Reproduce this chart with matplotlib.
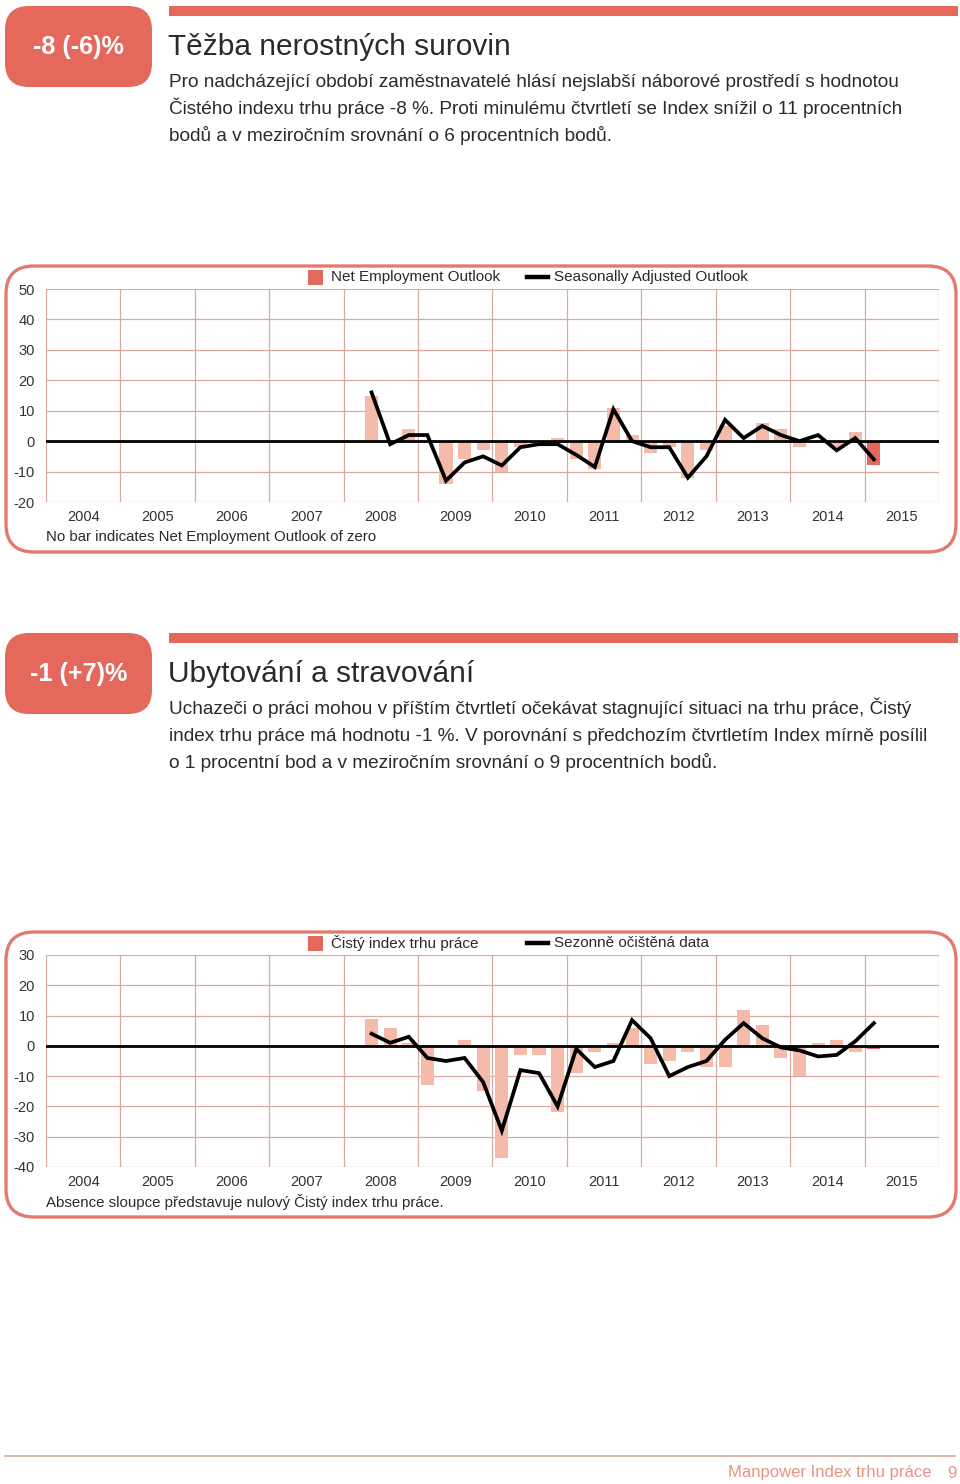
import matplotlib
matplotlib.use("Agg")
import matplotlib.pyplot as plt
from matplotlib.patches import FancyBboxPatch, Rectangle
from matplotlib.lines import Line2D

plt.rcParams['font.family'] = ['Liberation Sans', 'DejaVu Sans']

W, H = 960, 1484

# ---------------- data ----------------
quarters = ["2008Q2", "2008Q3", "2008Q4",
            "2009Q1", "2009Q2", "2009Q3", "2009Q4",
            "2010Q1", "2010Q2", "2010Q3", "2010Q4",
            "2011Q1", "2011Q2", "2011Q3", "2011Q4",
            "2012Q1", "2012Q2", "2012Q3", "2012Q4",
            "2013Q1", "2013Q2", "2013Q3", "2013Q4",
            "2014Q1", "2014Q2", "2014Q3", "2014Q4",
            "2015Q1"]
years = [2004, 2005, 2006, 2007, 2008, 2009, 2010, 2011, 2012, 2013, 2014, 2015]

# Chart 1 – Těžba nerostných surovin
neo_mining = [15, 0, 4, 0, -14, -6, -3, -10, -2, 0, 1, -6, -9, 11, 2,
              -4, -2, -12, -3, 5, 0, 6, 4, -2, 0, -2, 3, -8]
sa_mining = [16, -1, 2, 2, -13, -7, -5, -8, -2, -1, -1, -4.5, -8.5, 10.5, 0,
             -2, -2, -12, -5, 7, 1, 5, 2, 0, 2, -3, 1, -6]

# Chart 2 – Ubytování a stravování
neo_hotel = [9, 6, 1, -13, 0, 2, -15, -37, -3, -3, -22, -9, -2, 1, 6,
             -6, -5, -2, -7, -7, 12, 7, -4, -10, 1, 2, -2, -1]
sa_hotel = [4, 1, 3, -4, -5, -4, -12, -28, -8, -9, -20, -1, -7, -5, 8.5,
            2.5, -10, -7, -5, 2, 7.5, 2.5, -0.5, -1.5, -3.5, -3, 1.5, 7.5]

yticks1 = [-20, -10, 0, 10, 20, 30, 40, 50]
yticks2 = [-40, -30, -20, -10, 0, 10, 20, 30]

# ---------------- style ----------------
RED = "#E4685B"
LIGHT = "#F4BBAB"
GRID = "#D9AAA2"
FRAME = "#E27B6E"
TXT = "#2a2a2a"

fig = plt.figure(figsize=(W / 100, H / 100), dpi=100)
bg = fig.add_axes([0, 0, 1, 1])
bg.set_xlim(0, W)
bg.set_ylim(H, 0)
bg.axis("off")
bg.set_zorder(0)


def px_axes(x0, y0, x1, y1):
    ax = fig.add_axes([x0 / W, 1 - y1 / H, (x1 - x0) / W, (y1 - y0) / H])
    ax.set_zorder(2)
    return ax


def qpos(label):
    y, q = label.split("Q")
    return int(y) + (int(q) - 0.5) / 4.0


def header(y0, badge, title, lines):
    bg.add_patch(FancyBboxPatch((5, y0), 147, 81,
                                boxstyle="round,pad=0,rounding_size=24",
                                fc=RED, ec="none"))
    bg.text(78.5, y0 + 41, badge, color="white", fontsize=18.2, fontweight="bold",
            ha="center", va="center")
    bg.add_patch(Rectangle((169, y0), 789, 10, fc=RED, ec="none"))
    bg.text(168, y0 + 49, title, fontsize=21.5, color=TXT, va="baseline", ha="left")
    for i, ln in enumerate(lines):
        bg.text(169, y0 + 81 + 27 * i, ln, fontsize=13.7, color=TXT,
                va="baseline", ha="left")


def chart(frame_y0, frame_y1, ax_y0, ax_y1, ylim, yticks, neo, sa,
          leg1, leg2, note):
    bg.add_patch(FancyBboxPatch((6, frame_y0), 950, frame_y1 - frame_y0,
                                boxstyle="round,pad=0,rounding_size=28",
                                fc="none", ec=FRAME, lw=2.4))
    ax = px_axes(46, ax_y0, 939, ax_y1)
    ax.set_xlim(2004, 2016)
    ax.set_ylim(*ylim)
    ax.set_xticks(list(range(2004, 2017)))
    ax.set_xticks([y + 0.5 for y in years], minor=True)
    ax.set_xticklabels([], minor=False)
    ax.set_xticklabels([str(y) for y in years], minor=True)
    ax.set_yticks(yticks)
    ax.set_yticklabels([str(v) for v in yticks])
    ax.tick_params(axis="both", which="both", length=0, labelsize=10.5,
                   labelcolor="#333333")
    ax.tick_params(axis="x", which="minor", pad=6)
    ax.tick_params(axis="y", pad=8)
    ax.grid(True, which="major", color=GRID, lw=0.9)
    ax.set_axisbelow(True)
    for s in ax.spines.values():
        s.set_visible(False)
    xs = [qpos(q) for q in quarters]
    colors = [LIGHT] * (len(neo) - 1) + [RED]
    ax.bar(xs, neo, width=0.175, color=colors, zorder=2, linewidth=0)
    ax.axhline(0, color="black", lw=2.0, zorder=3)
    ax.plot(xs, sa, color="black", lw=2.7, zorder=4, solid_joinstyle="miter")
    # legend
    ly = frame_y0 + 11
    bg.add_patch(Rectangle((308, ly - 7.5), 15, 15, fc=RED, ec="none", zorder=3))
    bg.text(331, ly, leg1, fontsize=11, color=TXT, va="center", ha="left", zorder=3)
    bg.add_line(Line2D([527, 548], [ly, ly], color="black", lw=3.2, zorder=3))
    bg.text(554, ly, leg2, fontsize=11, color=TXT, va="center", ha="left", zorder=3)
    bg.text(46, ax_y1 + 35, note, fontsize=10.8, color=TXT, va="center", ha="left")
    return ax


header(6, "-8 (-6)%", "Těžba nerostných surovin",
       ["Pro nadcházející období zaměstnavatelé hlásí nejslabší náborové prostředí s hodnotou",
        "Čistého indexu trhu práce -8 %. Proti minulému čtvrtletí se Index snížil o 11 procentních",
        "bodů a v meziročním srovnání o 6 procentních bodů."])

chart(266, 552, 289, 502, (-20, 50), yticks1, neo_mining, sa_mining,
      "Net Employment Outlook", "Seasonally Adjusted Outlook",
      "No bar indicates Net Employment Outlook of zero")

header(633, "-1 (+7)%", "Ubytování a stravování",
       ["Uchazeči o práci mohou v příštím čtvrtletí očekávat stagnující situaci na trhu práce, Čistý",
        "index trhu práce má hodnotu -1 %. V porovnání s předchozím čtvrtletím Index mírně posílil",
        "o 1 procentní bod a v meziročním srovnání o 9 procentních bodů."])

chart(932, 1217, 955, 1167, (-40, 30), yticks2, neo_hotel, sa_hotel,
      "Čistý index trhu práce", "Sezonně očištěná data",
      "Absence sloupce představuje nulový Čistý index trhu práce.")

# footer
bg.add_line(Line2D([5, 955], [1456, 1456], color="#D8ACA3", lw=1.2))
bg.text(931, 1473, "Manpower Index trhu práce", fontsize=12, color="#E69484",
        ha="right", va="center")
bg.text(957, 1473, "9", fontsize=12, color="#E69484", ha="right", va="center")

fig.savefig("out.png", dpi=100)
